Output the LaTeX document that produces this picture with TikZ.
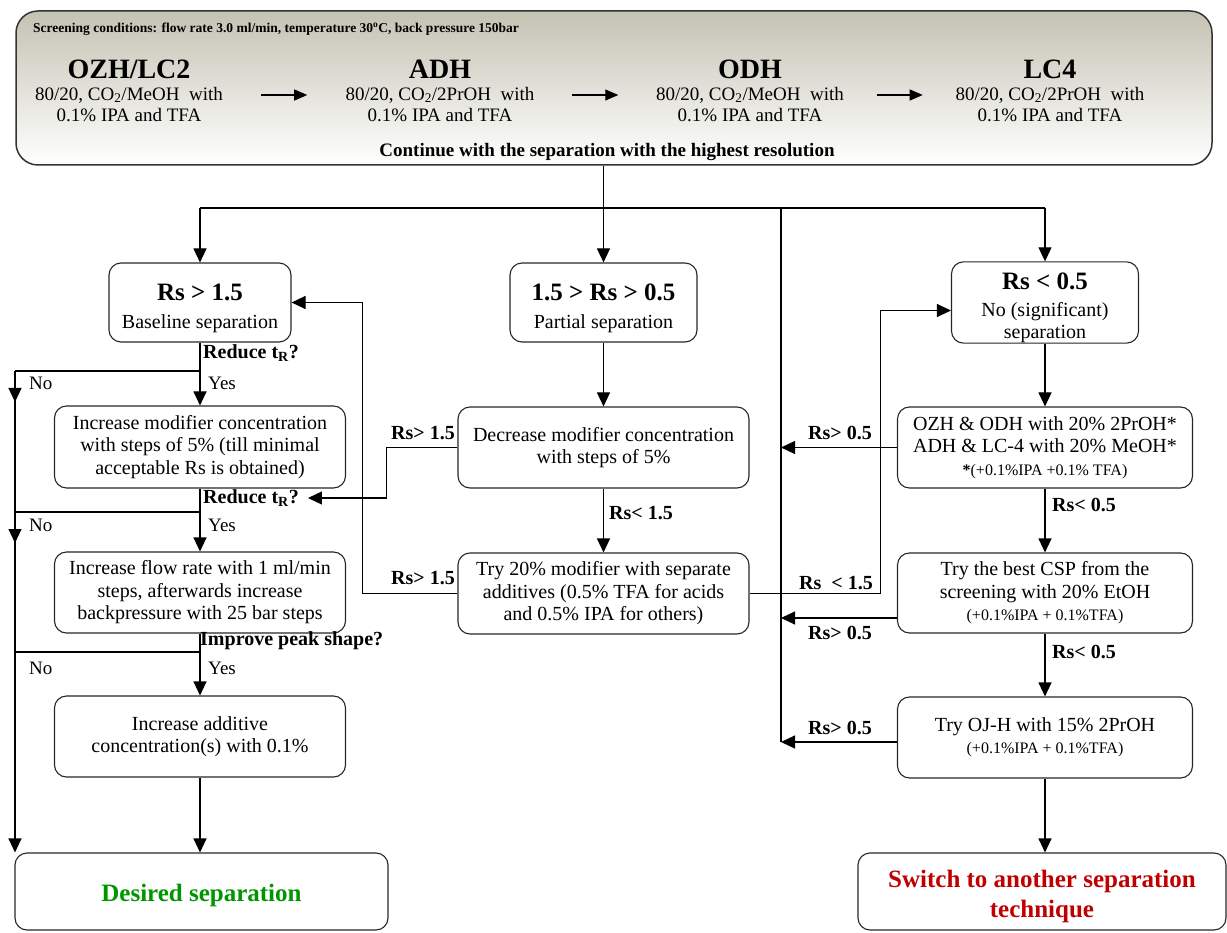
\documentclass[tikz,border=0pt]{standalone}
\usepackage{fontspec}
\setmainfont{Liberation Serif}
\usetikzlibrary{arrows.meta, calc, positioning, shadows}

\definecolor{headtop}{RGB}{196,194,178}
\definecolor{okgreen}{RGB}{0,150,0}
\definecolor{badred}{RGB}{192,0,0}

\newcommand{\bodytext}{\fontsize{20}{22.5}\selectfont}
\newcommand{\smalltext}{\fontsize{16}{18}\selectfont}
\newcommand{\headtext}{\fontsize{25}{27}\selectfont\bfseries}

\tikzstyle{stepbox} = [draw=black!85, line width=1.1pt, rounded corners=12pt, align=center, inner sep=0pt, font=\bodytext]
\tikzstyle{arrow} = [line width=1.1pt, -{Triangle[length=14pt,width=13pt]}]
\tikzstyle{wire} = [line width=1.1pt]
\tikzstyle{cond} = [inner sep=0pt, font=\fontsize{20}{22}\selectfont\bfseries]
\tikzstyle{answer} = [inner sep=0pt, font=\fontsize{19}{21}\selectfont]
\tikzstyle{colname} = [inner sep=0pt, font=\fontsize{28}{30}\selectfont\bfseries]
\tikzstyle{colmp} = [inner sep=0pt, font=\fontsize{19}{20}\selectfont]

\begin{document}
\begin{tikzpicture}[x=1pt, y=-1pt]
\useasboundingbox (0,0) rectangle (1227,933);

  % screening
  \node[stepbox, line width=1.5pt, draw=black!80, rounded corners=22pt, top color=headtop, bottom color=white, minimum width=1196pt, minimum height=154pt] (screen) at (614,88) {};
  \node[anchor=west, inner sep=0pt, font=\fontsize{13.5}{15}\selectfont\bfseries] (cond) at (33,29)
    {Screening conditions: flow rate 3.0 ml/min, temperature 30\textsuperscript{o}C, back pressure 150bar};

  \node[colname] (ozh) at (129,69) {OZH/LC2};
  \node[colmp] (ozha) at (129,95) {80/20, CO\textsubscript{2}/MeOH\ \ with};
  \node[colmp] (ozhb) at (129,115) {0.1\% IPA and TFA};
  \node[colname] (adh) at (440,69) {ADH};
  \node[colmp] (adha) at (440,95) {80/20, CO\textsubscript{2}/2PrOH\ \ with};
  \node[colmp] (adhb) at (440,115) {0.1\% IPA and TFA};
  \node[colname] (odh) at (750,69) {ODH};
  \node[colmp] (odha) at (750,95) {80/20, CO\textsubscript{2}/MeOH\ \ with};
  \node[colmp] (odhb) at (750,115) {0.1\% IPA and TFA};
  \node[colname] (lc) at (1050,69) {LC4};
  \node[colmp] (lca) at (1050,95) {80/20, CO\textsubscript{2}/2PrOH\ \ with};
  \node[colmp] (lcb) at (1050,115) {0.1\% IPA and TFA};

  \draw[arrow, -{Triangle[length=13pt,width=11pt]}] ($(ozha.east)!.5!(adha.west)-(23,0)$) -- ($(ozha.east)!.5!(adha.west)+(23,0)$);
  \draw[arrow, -{Triangle[length=13pt,width=11pt]}] ($(adha.east)!.5!(odha.west)-(23,0)$) -- ($(adha.east)!.5!(odha.west)+(23,0)$);
  \draw[arrow, -{Triangle[length=13pt,width=11pt]}] ($(odha.east)!.5!(lca.west)-(23,0)$) -- ($(odha.east)!.5!(lca.west)+(23,0)$);

  \node[anchor=center, inner sep=0pt, font=\fontsize{19}{21}\selectfont\bfseries] (cont) at (607,152)
    {Continue with the separation with the highest resolution};

  % three outcomes
  \node[stepbox, minimum width=182pt, minimum height=79pt] (rsA) at (200,302.5)
    {{\headtext\rule{0pt}{28pt}Rs > 1.5}\\[5pt]Baseline separation};
  \node[stepbox, minimum width=187pt, minimum height=79pt] (rsB) at (603.5,302.5)
    {{\headtext\rule{0pt}{28pt}1.5 > Rs > 0.5}\\[5pt]Partial separation};
  \node[stepbox, minimum width=187pt, minimum height=79pt] (rsC) at (1045,302.5)
    {{\headtext\rule{0pt}{28pt}Rs < 0.5}\\[4pt]No (significant)\\separation};

  \coordinate (split) at (603.5,208);
  \coordinate (back) at (781,208);
  \coordinate (left) at (15,208);

  \draw[wire] (screen.south -| split) -- (split);
  \draw[wire] (rsA.north |- split) -- (rsC.north |- split);
  \draw[arrow] (split) -- (rsB.north);
  \draw[arrow] (rsA.north |- split) -- (rsA.north);
  \draw[arrow] (rsC.north |- split) -- (rsC.north);

  % left column
  \node[stepbox, minimum width=291pt, minimum height=82pt] (incMod) at (200,447)
    {Increase modifier concentration\\with steps of 5\% (till minimal\\acceptable Rs is obtained)};
  \node[stepbox, minimum width=291pt, minimum height=81pt] (incFlow) at (200,592.5)
    {Increase flow rate with 1 ml/min\\steps, afterwards increase\\backpressure with 25 bar steps};
  \node[stepbox, minimum width=291pt, minimum height=81pt] (incAdd) at (200,736.5)
    {Increase additive\\concentration(s) with 0.1\%};
  \node[stepbox, minimum width=373pt, minimum height=77pt] (desired) at (201.5,891.5)
    {\textcolor{okgreen}{\headtext\rule{0pt}{25pt}Desired separation}};

  \coordinate (q1) at (200,371);
  \coordinate (q2) at (200,512);
  \coordinate (q3) at (200,652);

  \draw[arrow] (rsA.south) -- (incMod.north);
  \draw[arrow] (incMod.south) -- (incFlow.north);
  \draw[arrow] (incFlow.south) -- (incAdd.north);
  \draw[arrow] (incAdd.south) -- (incAdd.south |- desired.north);

  \draw[wire] (q1) -- (q1 -| left);
  \draw[wire] (q2) -- (q2 -| left);
  \draw[wire] (q3) -- (q3 -| left);
  \draw[arrow] (q1 -| left) -- ++(0,31);
  \draw[arrow] (q2 -| left) -- ++(0,31);
  \draw[arrow] (q1 -| left) -- (left |- desired.north);

  \node[cond, anchor=west] (ask1) at (203,353) {Reduce t\textsubscript{R}?};
  \node[cond, anchor=west] (ask2) at (203,498) {Reduce t\textsubscript{R}?};
  \node[cond, anchor=west] (ask3) at (200,641) {Improve peak shape?};
  \node[answer, anchor=west] (no1) at (29,383) {No};
  \node[answer, anchor=west] (yes1) at (208,383) {Yes};
  \node[answer, anchor=west] (no2) at (29,525) {No};
  \node[answer, anchor=west] (yes2) at (208,525) {Yes};
  \node[answer, anchor=west] (no3) at (29,668) {No};
  \node[answer, anchor=west] (yes3) at (208,668) {Yes};

  % middle column
  \node[stepbox, minimum width=291pt, minimum height=81pt] (decMod) at (603.5,447.5)
    {Decrease modifier concentration\\with steps of 5\%};
  \node[stepbox, minimum width=291pt, minimum height=81pt] (try20) at (603.5,593.5)
    {Try 20\% modifier with separate\\additives (0.5\% TFA for acids\\and 0.5\% IPA for others)};

  \draw[arrow] (rsB.south) -- (decMod.north);
  \draw[arrow] (decMod.south) -- (try20.north);
  \node[cond, anchor=west] (lt15) at (609,513) {Rs< 1.5};

  \draw[arrow] (decMod.west) -- ++(-71,0) |- ([xshift=9pt]ask2.east);
  \draw[arrow] (try20.west) -- ++(-95,0) |- (rsA.east);
  \draw[arrow] (try20.east) -- ++(131,0) |- ([yshift=-8pt]rsC.west);
  \node[cond, anchor=east] (gt15a) at (455,433) {Rs> 1.5};
  \node[cond, anchor=east] (gt15b) at (455,578) {Rs> 1.5};
  \node[cond, anchor=east] (lt15b) at (873,583) {Rs\ \ < 1.5};

  % right column
  \node[stepbox, minimum width=295pt, minimum height=81pt] (swap) at (1045,447.5)
    {OZH \& ODH with 20\% 2PrOH*\\ADH \& LC-4 with 20\% MeOH*\\{\smalltext\textbf{*}(+0.1\%IPA +0.1\% TFA)}};
  \node[stepbox, minimum width=295pt, minimum height=80pt] (csp) at (1045,593)
    {Try the best CSP from the\\screening with 20\% EtOH\\{\smalltext (+0.1\%IPA + 0.1\%TFA)}};
  \node[stepbox, minimum width=295pt, minimum height=81pt] (ojh) at (1045,737.5)
    {Try OJ-H with 15\% 2PrOH\\{\smalltext (+0.1\%IPA + 0.1\%TFA)}};
  \node[stepbox, minimum width=368pt, minimum height=77pt] (switch) at (1042,891.5)
    {\textcolor{badred}{\headtext\rule{0pt}{27pt}Switch to another separation}\\[6pt]\textcolor{badred}{\headtext technique}};

  \draw[arrow] (rsC.south) -- (swap.north);
  \draw[arrow] (swap.south) -- (csp.north);
  \draw[arrow] (csp.south) -- (ojh.north);
  \draw[arrow] (ojh.south) -- (ojh.south |- switch.north);
  \node[cond, anchor=west] (lt05a) at (1052,505) {Rs< 0.5};
  \node[cond, anchor=west] (lt05b) at (1052,652) {Rs< 0.5};

  \coordinate (cspout) at ([yshift=-25pt]csp.west);
  \coordinate (ojhout) at ([yshift=-4.5pt]ojh.west);
  \draw[wire] (back) -- (ojhout -| back);
  \draw[arrow] (swap.west) -- (swap.west -| back);
  \draw[arrow] (cspout) -- (cspout -| back);
  \draw[arrow] (ojhout) -- (ojhout -| back);
  \node[cond, anchor=east] (gt05a) at (872,433) {Rs> 0.5};
  \node[cond, anchor=east] (gt05b) at (872,633) {Rs> 0.5};
  \node[cond, anchor=east] (gt05c) at (872,728) {Rs> 0.5};

\end{tikzpicture}
\end{document}
